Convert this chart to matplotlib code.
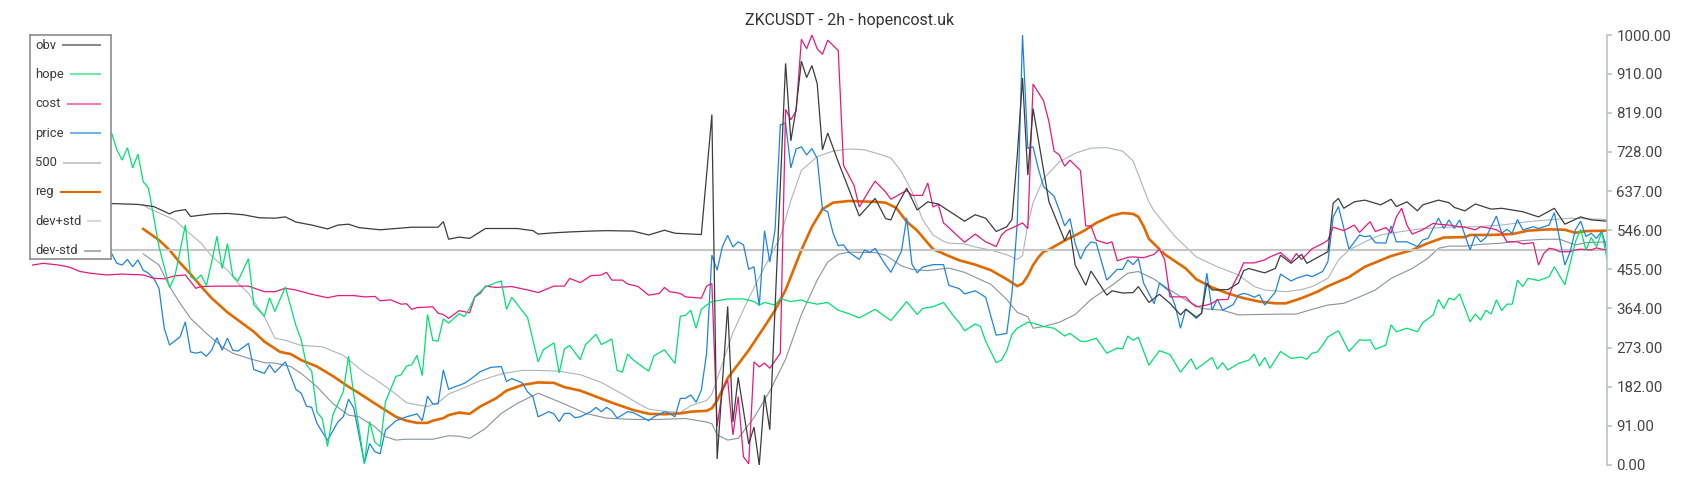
import matplotlib
matplotlib.use('Agg')
import matplotlib.pyplot as plt
import numpy as np

plt.rcParams['font.family'] = ['Roboto', 'DejaVu Sans']

title = 'ZKCUSDT - 2h - hopencost.uk'
yticks = [0, 91, 182, 273, 364, 455, 546, 637, 728, 819, 910, 1000]
n_bars = 300
level = 500

# (bar index, value) pairs
obv = [(0, 612), (15, 608), (20, 606), (23, 601), (26, 584), (27, 590), (29, 594), (30, 578),
       (34, 584), (37, 585), (40, 582), (43, 575), (46, 574), (48, 577), (50, 565), (53, 558),
       (56, 549), (58, 558), (60, 560), (62, 552), (66, 547), (72, 553), (77, 553), (78, 566),
       (79, 525), (81, 530), (83, 527), (86, 550), (89, 550), (92, 550), (95, 545), (96, 537),
       (99, 540), (102, 542), (106, 544), (109, 545), (114, 544), (117, 535), (120, 546),
       (122, 539), (127, 536), (129, 815), (130, 14), (132, 369), (133, 100), (134, 204),
       (136, 49), (137, 88), (138, 0), (139, 163), (140, 82), (143, 934), (144, 754), (145, 829),
       (146, 939), (147, 901), (148, 929), (149, 887), (150, 733), (151, 772), (153, 705),
       (155, 642), (157, 579), (160, 620), (162, 573), (163, 570), (164, 599), (166, 644),
       (168, 593), (170, 612), (172, 607), (177, 567), (179, 582), (181, 574), (183, 543),
       (185, 554), (186, 571), (187, 720), (188, 900), (189, 674), (190, 829), (193, 613),
       (196, 522), (197, 547), (198, 465), (200, 418), (201, 451), (204, 395), (205, 405),
       (207, 400), (209, 401), (210, 415), (212, 378), (214, 397), (216, 376), (218, 349),
       (219, 362), (221, 344), (222, 353), (223, 423), (224, 407), (227, 408), (229, 423),
       (230, 452), (231, 457), (233, 450), (234, 447), (236, 457), (237, 488), (239, 469),
       (241, 490), (242, 469), (246, 496), (247, 609), (248, 620), (249, 597), (251, 612),
       (253, 616), (256, 605), (258, 618), (259, 601), (261, 612), (263, 591), (264, 605),
       (267, 616), (269, 610), (270, 599), (272, 591), (274, 607), (277, 595), (279, 597),
       (283, 589), (286, 577), (289, 597), (291, 560), (294, 577), (296, 570), (299, 567)]

hope = [(0, 790), (15, 772), (16, 733), (17, 709), (18, 738), (19, 691), (20, 723), (21, 659),
        (22, 644), (24, 508), (26, 413), (27, 438), (29, 558), (30, 438), (31, 430), (32, 442),
        (33, 417), (34, 472), (35, 532), (36, 457), (37, 515), (38, 440), (39, 428), (41, 480),
        (42, 373), (44, 346), (45, 389), (46, 357), (48, 414), (50, 324), (51, 292), (52, 233),
        (53, 218), (54, 123), (55, 108), (56, 43), (57, 116), (59, 171), (60, 253), (61, 163),
        (63, 3), (64, 101), (65, 53), (66, 43), (67, 147), (69, 206), (70, 210), (71, 230),
        (72, 233), (73, 255), (74, 208), (75, 350), (76, 290), (77, 288), (78, 340), (79, 330),
        (81, 352), (82, 345), (83, 365), (84, 392), (86, 414), (88, 424), (89, 428), (90, 362),
        (91, 390), (94, 343), (96, 240), (97, 268), (99, 284), (100, 214), (101, 270), (102, 278),
        (104, 245), (105, 280), (107, 304), (108, 280), (110, 293), (111, 220), (112, 216),
        (113, 258), (114, 245), (117, 218), (118, 254), (120, 268), (122, 236), (123, 346),
        (124, 348), (125, 360), (126, 318), (127, 362), (128, 372), (129, 380), (132, 386),
        (135, 386), (137, 380), (138, 372), (139, 378), (141, 372), (142, 387), (144, 380),
        (146, 384), (147, 379), (149, 374), (151, 378), (153, 360), (155, 352), (157, 342),
        (160, 362), (163, 336), (166, 380), (168, 350), (169, 364), (171, 368), (173, 378),
        (175, 345), (176, 331), (177, 312), (179, 328), (180, 322), (181, 288), (183, 238),
        (184, 244), (185, 266), (186, 304), (187, 318), (189, 332), (190, 330), (192, 322),
        (194, 318), (196, 300), (197, 306), (199, 288), (200, 287), (202, 295), (204, 260),
        (206, 272), (207, 270), (208, 300), (209, 290), (210, 297), (212, 232), (214, 266),
        (216, 257), (218, 216), (220, 247), (221, 223), (224, 250), (225, 223), (226, 238),
        (227, 221), (229, 236), (231, 244), (232, 258), (233, 230), (234, 250), (235, 225),
        (237, 264), (239, 248), (241, 251), (242, 246), (243, 260), (244, 263), (245, 279),
        (246, 298), (248, 312), (250, 264), (252, 291), (253, 290), (254, 291), (255, 269),
        (257, 279), (258, 326), (259, 310), (261, 318), (263, 310), (264, 331), (266, 349),
        (267, 385), (268, 364), (269, 388), (270, 384), (271, 398), (273, 333), (274, 351),
        (275, 337), (276, 360), (277, 351), (278, 384), (279, 359), (280, 374), (281, 374),
        (282, 430), (283, 415), (284, 434), (286, 429), (288, 438), (289, 461), (291, 419),
        (292, 469), (293, 519), (294, 548), (295, 500), (296, 529), (297, 508), (298, 541),
        (299, 480)]

cost = [(0, 465), (2, 469), (5, 465), (7, 460), (9, 450), (11, 446), (14, 442), (17, 444),
        (21, 442), (23, 434), (25, 433), (27, 440), (29, 442), (31, 411), (32, 415), (35, 416),
        (38, 416), (41, 416), (44, 403), (46, 403), (48, 411), (50, 407), (53, 397), (56, 389),
        (58, 394), (61, 394), (63, 391), (65, 392), (66, 382), (68, 384), (70, 374), (71, 375),
        (72, 362), (73, 366), (76, 368), (77, 353), (78, 350), (79, 341), (81, 359), (83, 354),
        (84, 391), (85, 399), (86, 416), (88, 413), (91, 415), (94, 407), (96, 401), (99, 416),
        (101, 416), (102, 434), (104, 424), (106, 440), (108, 442), (109, 448), (110, 430),
        (112, 430), (113, 421), (115, 415), (117, 395), (119, 399), (120, 413), (121, 403),
        (123, 399), (124, 391), (127, 388), (128, 416), (129, 422), (130, 90), (131, 174),
        (132, 198), (133, 70), (134, 159), (135, 19), (136, 3), (137, 240), (138, 228),
        (139, 237), (140, 225), (142, 260), (143, 827), (144, 803), (145, 823), (146, 990),
        (147, 968), (148, 1000), (149, 968), (150, 955), (151, 988), (153, 964), (154, 697),
        (156, 650), (157, 600), (159, 641), (160, 660), (162, 635), (163, 618), (165, 632),
        (166, 638), (167, 627), (169, 627), (170, 656), (171, 600), (172, 606), (173, 563),
        (174, 552), (176, 529), (177, 518), (179, 537), (181, 519), (183, 508), (184, 535),
        (185, 546), (186, 551), (188, 563), (189, 550), (190, 886), (192, 847), (193, 799),
        (194, 730), (195, 721), (196, 695), (197, 709), (199, 685), (200, 556), (201, 556),
        (202, 523), (204, 515), (205, 519), (206, 475), (208, 483), (209, 484), (211, 482),
        (213, 490), (214, 502), (215, 477), (216, 391), (219, 391), (220, 377), (221, 368),
        (223, 372), (224, 376), (225, 384), (227, 385), (228, 419), (229, 442), (230, 470),
        (232, 470), (234, 477), (235, 484), (237, 494), (239, 473), (240, 492), (241, 478),
        (243, 503), (245, 515), (246, 523), (247, 553), (249, 545), (251, 558), (252, 541),
        (254, 566), (255, 543), (257, 552), (258, 540), (259, 577), (260, 597), (261, 558),
        (262, 537), (264, 547), (266, 562), (267, 560), (269, 558), (271, 554), (272, 553),
        (274, 547), (275, 554), (277, 550), (278, 547), (279, 540), (280, 519), (282, 519),
        (283, 514), (285, 517), (286, 465), (287, 492), (288, 504), (289, 502), (290, 496),
        (292, 496), (293, 500), (294, 502), (296, 500), (297, 505), (298, 502), (299, 500)]

price = [(0, 505), (15, 492), (16, 469), (17, 465), (18, 478), (19, 461), (20, 477), (21, 453),
         (22, 446), (23, 434), (24, 411), (25, 318), (26, 279), (28, 298), (29, 333), (30, 263),
         (31, 260), (32, 263), (33, 253), (34, 267), (35, 296), (36, 267), (37, 295), (38, 267),
         (39, 265), (41, 283), (42, 222), (44, 213), (45, 233), (46, 215), (48, 240), (50, 176),
         (51, 167), (52, 137), (53, 134), (54, 97), (56, 57), (58, 101), (59, 112), (60, 153),
         (61, 132), (63, 4), (64, 50), (65, 31), (66, 26), (67, 81), (69, 103), (71, 112),
         (73, 119), (74, 103), (75, 160), (76, 142), (77, 142), (78, 221), (79, 176), (80, 181),
         (82, 190), (83, 198), (85, 217), (87, 227), (89, 229), (90, 194), (91, 201), (93, 191),
         (94, 170), (95, 159), (96, 112), (98, 124), (99, 119), (100, 101), (101, 120),
         (102, 120), (103, 110), (104, 112), (106, 124), (107, 134), (108, 124), (109, 134),
         (110, 126), (111, 109), (113, 124), (114, 122), (115, 116), (117, 103), (118, 112),
         (120, 124), (121, 120), (122, 112), (123, 155), (124, 155), (125, 163), (126, 146),
         (127, 174), (128, 260), (129, 488), (130, 453), (131, 508), (132, 534), (133, 507),
         (134, 519), (135, 512), (136, 455), (137, 461), (138, 370), (139, 545), (140, 472),
         (141, 547), (142, 791), (143, 795), (144, 691), (145, 735), (146, 740), (147, 721),
         (148, 736), (149, 713), (150, 595), (151, 589), (152, 540), (153, 510), (154, 512),
         (155, 495), (157, 478), (158, 500), (159, 494), (160, 504), (162, 465), (163, 448),
         (165, 497), (166, 575), (167, 467), (168, 447), (169, 460), (171, 466), (173, 466),
         (174, 418), (176, 410), (177, 398), (179, 405), (180, 398), (181, 390), (182, 345),
         (183, 302), (185, 306), (186, 400), (187, 563), (188, 1000), (189, 736), (190, 740),
         (191, 689), (192, 647), (194, 625), (195, 592), (196, 556), (197, 573), (198, 515),
         (199, 479), (200, 505), (201, 519), (202, 516), (203, 473), (204, 430), (206, 455),
         (207, 455), (208, 477), (209, 466), (210, 480), (211, 423), (213, 375), (214, 423),
         (216, 403), (217, 370), (218, 318), (219, 363), (220, 353), (221, 341), (222, 353),
         (223, 446), (224, 360), (225, 386), (226, 360), (228, 373), (229, 395), (230, 399),
         (231, 396), (232, 390), (233, 396), (234, 372), (236, 402), (237, 444), (239, 428),
         (240, 434), (242, 442), (243, 438), (245, 450), (246, 473), (247, 577), (248, 601),
         (250, 502), (252, 535), (253, 531), (254, 533), (255, 517), (257, 516), (258, 556),
         (259, 519), (261, 519), (263, 508), (264, 523), (265, 527), (267, 574), (268, 550),
         (269, 570), (270, 550), (271, 570), (273, 500), (274, 535), (275, 519), (276, 529),
         (278, 579), (279, 539), (280, 548), (281, 539), (282, 571), (283, 547), (285, 554),
         (286, 550), (288, 558), (289, 587), (291, 465), (292, 496), (293, 547), (294, 567),
         (295, 531), (296, 539), (297, 527), (298, 543), (299, 500)]

reg = [(21, 549), (24, 523), (26, 500), (28, 470), (30, 444), (32, 415), (34, 388), (37, 355),
       (39, 337), (42, 310), (44, 287), (47, 263), (49, 258), (51, 244), (54, 229), (57, 207),
       (60, 182), (62, 167), (65, 143), (69, 112), (71, 103), (73, 98), (75, 98), (76, 103),
       (78, 109), (79, 116), (81, 122), (83, 119), (85, 136), (88, 155), (90, 173), (93, 186),
       (96, 192), (99, 191), (101, 181), (104, 173), (107, 159), (110, 145), (114, 128),
       (117, 119), (120, 118), (123, 120), (125, 124), (128, 126), (129, 132), (130, 150),
       (131, 175), (132, 202), (136, 267), (139, 322), (141, 360), (143, 407), (146, 500),
       (148, 554), (150, 595), (152, 610), (155, 614), (160, 612), (162, 610), (164, 598),
       (166, 566), (168, 545), (171, 502), (174, 486), (176, 476), (179, 466), (182, 453),
       (185, 432), (187, 416), (188, 422), (189, 440), (190, 465), (191, 483), (192, 496),
       (193, 501), (196, 522), (198, 534), (200, 547), (202, 563), (205, 580), (207, 586),
       (209, 584), (210, 577), (211, 555), (212, 526), (215, 490), (219, 457), (221, 432),
       (224, 413), (227, 399), (230, 388), (233, 380), (236, 376), (238, 376), (241, 388),
       (244, 403), (246, 416), (250, 437), (253, 461), (258, 486), (262, 500), (265, 516),
       (268, 529), (272, 530), (273, 535), (277, 535), (281, 537), (284, 545), (288, 548),
       (291, 547), (293, 540), (295, 544), (299, 545)]

dev_hi = [(21, 605), (22, 597), (25, 581), (27, 570), (29, 547), (32, 516), (34, 486), (37, 453),
          (39, 423), (41, 399), (44, 345), (46, 295), (48, 290), (51, 278), (55, 275), (56, 270),
          (59, 255), (63, 215), (65, 200), (68, 174), (71, 145), (73, 140), (75, 136), (77, 145),
          (79, 165), (82, 180), (85, 196), (89, 212), (93, 220), (96, 220), (100, 218), (104, 210),
          (108, 192), (112, 165), (115, 143), (117, 130), (120, 125), (123, 122), (125, 138),
          (128, 150), (129, 165), (131, 236), (133, 308), (136, 388), (139, 460), (142, 530),
          (144, 615), (146, 685), (149, 717), (152, 730), (155, 735), (158, 733), (161, 722),
          (163, 714), (165, 682), (167, 636), (169, 571), (171, 535), (173, 520), (174, 516),
          (177, 514), (179, 507), (182, 500), (185, 489), (187, 478), (188, 487), (189, 560),
          (190, 610), (192, 666), (195, 705), (198, 725), (201, 737), (204, 738), (207, 730),
          (209, 707), (211, 643), (212, 612), (213, 590), (217, 531), (221, 484), (225, 461),
          (229, 442), (232, 415), (234, 407), (238, 403), (241, 408), (243, 415), (246, 434),
          (248, 477), (250, 500), (253, 519), (256, 535), (260, 543), (264, 550), (269, 553),
          (274, 554), (279, 558), (284, 566), (288, 570), (292, 574), (299, 571)]

dev_lo = [(21, 491), (24, 465), (26, 415), (28, 376), (30, 341), (33, 306), (36, 275), (38, 260),
          (41, 248), (44, 238), (46, 237), (49, 229), (51, 213), (54, 182), (57, 143), (60, 116),
          (62, 112), (65, 89), (67, 66), (69, 58), (71, 60), (76, 60), (79, 68), (81, 67), (83, 62),
          (86, 85), (89, 120), (92, 143), (96, 167), (98, 157), (101, 142), (105, 120), (109, 109),
          (114, 106), (119, 106), (124, 108), (128, 100), (129, 96), (130, 70), (132, 58),
          (134, 62), (137, 110), (140, 172), (143, 246), (146, 350), (149, 430), (151, 472),
          (153, 490), (155, 495), (160, 494), (162, 488), (165, 463), (167, 455), (170, 452),
          (174, 458), (177, 448), (182, 420), (185, 385), (187, 355), (189, 345), (190, 318),
          (192, 322), (195, 332), (198, 350), (201, 385), (205, 418), (208, 446), (210, 450),
          (213, 432), (216, 407), (219, 384), (222, 364), (226, 360), (229, 349), (233, 350),
          (237, 351), (240, 351), (243, 362), (246, 372), (249, 376), (252, 391), (255, 407),
          (258, 434), (262, 457), (265, 481), (267, 504), (269, 509), (272, 509), (275, 513),
          (279, 516), (283, 522), (287, 525), (290, 525), (293, 512), (295, 517), (299, 519)]

# label, data, line colour, width, legend swatch colour
series = [
    ('obv', obv, '#3c3c3c', 0.9, '#8a8a8a'),
    ('hope', hope, '#00e070', 0.9, '#72e9a8'),
    ('cost', cost, '#e6197d', 0.9, '#ee7ab6'),
    ('price', price, '#1e84e0', 0.9, '#72b3ea'),
    ('500', None, '#c6c6c6', 1.5, '#c8c8c8'),
    ('reg', reg, '#e06a00', 1.9, '#e06a00'),
    ('dev+std', dev_hi, '#abb5bb', 0.8, '#d2d9dd'),
    ('dev-std', dev_lo, '#87939b', 0.8, '#a6b0b6'),
]

W, H = 1700, 500
fig = plt.figure(figsize=(W / 100, H / 100), dpi=100)
ax = fig.add_axes([30 / W, 35 / H, 1577 / W, 430 / H])

# first dataset drawn on top
for label, data, color, lw, _ in reversed(series):
    if data is None:
        ax.axhline(level, color=color, lw=lw)
        continue
    t, v = zip(*data)
    ax.plot(t, v, color=color, lw=lw, solid_joinstyle='miter')

ax.set_xlim(-0.5, n_bars - 1)
ax.set_ylim(0, 1000)
ax.set_xticks([])
ax.set_yticks(yticks)
ax.set_yticklabels(['%.2f' % y for y in yticks])
ax.yaxis.tick_right()
for s in ['top', 'left', 'bottom']:
    ax.spines[s].set_visible(False)
ax.spines['right'].set_color('#b4bfc5')
ax.spines['right'].set_linewidth(1.1)
ax.tick_params(axis='y', direction='out', length=3.3, width=1.1, color='#b4bfc5',
               pad=3.5, labelsize=10.8, labelcolor='#444444')

fig.text(0.5, 1 - 20 / H, title, ha='center', va='center', fontsize=11.5, color='#333333')

# legend box, drawn by hand: label on the left, swatch running to the right edge
lax = fig.add_axes([30 / W, (H - 259) / H, 81 / W, 224 / H])
lax.set_zorder(10)
lax.set_facecolor('white')
lax.set_xlim(0, 81)
lax.set_ylim(224, 0)
lax.set_xticks([])
lax.set_yticks([])
for s in lax.spines.values():
    s.set_color('#8c8c8c')
    s.set_linewidth(1.2)

renderer = fig.canvas.get_renderer()
inv = lax.transData.inverted()
for i, (label, _, _, _, swatch) in enumerate(series):
    y = 10 + i * 29.4
    txt = lax.text(5, y, label, ha='left', va='center', fontsize=9.4, color='#3a3a3a')
    bb = txt.get_window_extent(renderer)
    x_end = inv.transform((bb.x1, bb.y0))[0]
    lax.plot([x_end + 6, 70.5], [y, y], color=swatch, lw=1.5, solid_capstyle='butt')

fig.savefig('out.png', dpi=100)
plt.close(fig)
